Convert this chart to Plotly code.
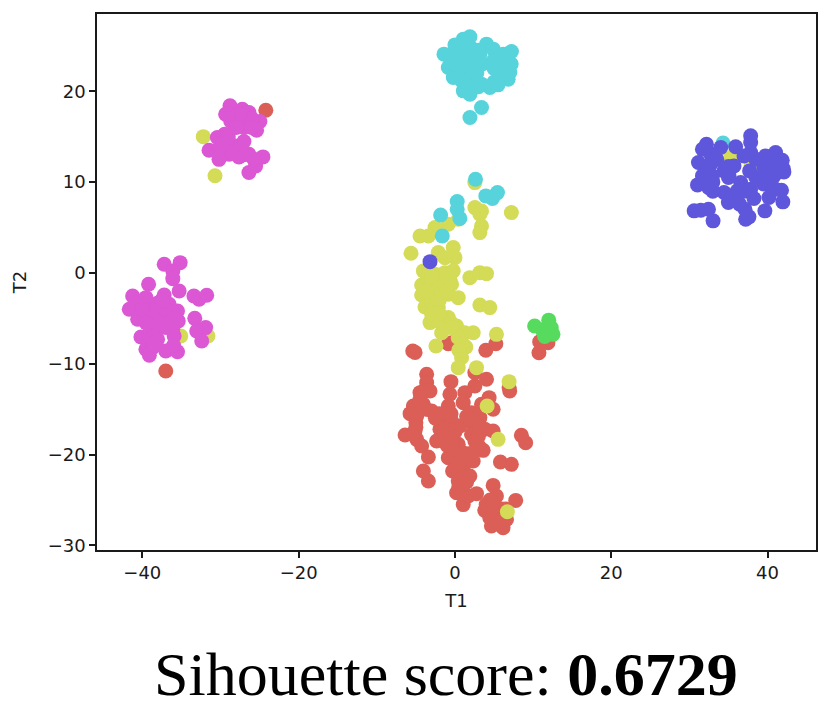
import plotly.graph_objects as go

red_x = [-24.2, -37.0, -5.4, -5.1, -0.85, -0.4, 3.95, 5.23, 10.75, 10.84, 11.9, -3.62, -3.62, -4.47, -3.19, -5.32, -4.04, -2.98,
         -5.74, -4.89, -0.51, -0.64, -0.85, 2.55, 1.27, 1.06, 2.55, 4.04, 7.01, 4.37, 3.4, 4.89, 2.12, 3.19, -1.49, -0.43, 0.63,
         -1.92, -0.85, -6.38, -5.11, -4.89, -4.26, -2.34, -3.4, 2.34, 2.12, 4.89, 3.82, 2.55, 3.61, 2.34, 8.5, 9.05, 5.82, 7.22,
         -0.85, 0.42, 0.42, 2.34, -0.3, 1.06, 1.91, -4.04, -3.4, 0.42, 0.21, 2.76, 1.06, 1.7, 4.89, 5.31, 7.78, 3.82, 5.1, 4.67,
         6.16, 4.46, 6.6, 5.52, 6.93,
         -2.5, -1.0, 0.0, -0.5, -1.0, 0.0, 1.0, 0.5, 0.5, 1.5, 3.0, 3.0, 3.0, -4.5, -3.7, -4.0, -5.0, -5.0, -2.0, -1.5, -0.5, 1.5,
         2.5, 3.2, 1.7, 1.0, 5.0, 5.0, 6.0, 5.5, 4.0, 6.5, 4.5]
red_y = [17.9, -10.8, -8.59, -8.75, -7.79, -7.7, -8.52, -7.79, -8.78, -7.57, -7.68, -11.16, -12.08, -13.18, -13.0, -14.65, -14.46,
         -15.2, -15.49, -15.75, -11.97, -13.36, -14.65, -12.45, -13.18, -14.28, -10.98, -11.71, -12.99, -13.73, -14.46, -15.0,
         -15.38, -15.93, -16.3, -16.3, -16.85, -17.2, -17.4, -17.84, -17.4, -18.32, -19.05, -18.5, -20.26, -16.67, -17.77, -17.4,
         -17.2, -18.5, -19.53, -19.79, -17.88, -18.69, -20.82, -21.07, -20.34, -18.87, -20.15, -20.7, -21.8, -21.6, -22.36, -21.8,
         -22.9, -22.9, -24.2, -24.3, -25.5, -24.56, -23.39, -24.56, -25.04, -26.14, -25.85, -27.86, -28.05, -26.95, -27.13, -26.95,
         -12.6,
         -16.0, -15.5, -17.5, -18.5, -19.0, -19.5, -20.5, -21.0, -23.5, -23.0, -16.7, -18.0, -19.0, -14.0, -15.0, -13.0, -16.5,
         -17.0, -15.5, -17.5, -15.5, -15.8, -16.2, -17.0, -19.9, -19.8, -25.5, -26.5, -26.0, -27.5, -25.5, -26.0, -25.0]

yellow_x = [2.55, 7.22, 2.55, 3.4, 3.19, 3.4, 3.19, 0.42, -0.85, -2.55, -4.47, -3.4, -5.62, -2.13, -0.22, 0.0, -1.28, -4.04, -2.55,
            -1.28, -0.22, -4.26, -3.19, -4.26, -3.19, -2.55, -0.43, -0.85, 0.42, -1.92, -3.83, -2.13, -3.19, -2.13, -0.85, 0.21,
            -1.7, 2.34, 1.27, 0.42, 5.31, -2.43, 1.4, 0.85, 1.91, 3.19, 4.04, 3.19, 4.46, -0.64, -2.98, 0.42, 2.76, 6.93, 4.12,
            5.52, 6.71, -32.2, -30.7, -35.08, -31.6, 35.3, 37.9,
            -3.5, -3.5, -2.0, -1.5, -1.0, -2.0, -3.0, -3.0, -0.5, 1.0, 0.5, -0.5]
yellow_y = [9.94, 6.64, 7.19, 6.82, 6.46, 5.17, 4.44, 5.91, 5.36, 4.99, 4.07, 4.07, 2.16, 2.24, 2.79, 1.68, 1.68, 0.22, -0.15, 0.03,
            0.22, -1.33, -1.44, -2.43, -2.54, -1.62, -1.25, -2.35, -2.72, -2.54, -3.75, -3.82, -5.47, -5.29, -4.92, -5.84, -6.58,
            -6.58, -6.58, -7.13, -6.76, -8.04, -8.15, -9.33, -0.52, 0.03, -0.08, -3.53, -3.82, -0.7, -3.09, -10.43, -10.43, -11.97,
            -14.65, -18.32, -26.29, 15.0, 10.7, -6.94, -6.94, 12.7, 11.8,
            -0.5, -2.0, -3.0, -1.0, -2.0, -4.5, -4.5, -0.5, -5.5, -7.8, -8.5, -6.0]

green_x = [10.2, 12.0, 11.26, 12.54, 11.48, 12.33, 11.9]
green_y = [-5.84, -5.2, -6.39, -6.76, -7.0, -6.03, -5.84]

cyan_x = [1.92, 1.07, 0.0, -1.4, -0.21, 1.07, 4.04, 4.9, 7.23, 6.17, -0.85, 0.43, 1.92, 3.19, 4.9, 6.81, -0.21, 1.28, 2.56, 5.74,
          7.02, 4.47, 1.92, 3.4, 5.74, 6.81, 1.07, 1.92, 3.4, 1.92, 2.63, 0.29, 0.29, 0.63, -1.83, -1.62, 3.95, 4.8, 5.44, 34.3,
          0.5, 1.5, 2.5, 3.5, 5.0, 6.0, 6.5, 5.0, 1.0, 0.0, 2.2, 3.0, -0.5, 6.0, 7.2, 5.5, 2.0, 3.0, 1.0, 0.5, 2.8, 6.5, 5.5]
cyan_y = [25.99, 25.73, 25.1, 24.08, 24.08, 24.26, 25.18, 24.63, 24.37, 24.08, 22.61, 22.98, 22.98, 24.08, 23.34, 22.98, 21.51, 21.69,
          22.24, 22.24, 22.06, 20.41, 20.96, 20.78, 21.33, 21.33, 20.04, 19.67, 18.2, 17.1, 10.31, 7.85, 7.0, 6.0, 6.38, 4.07, 8.48,
          8.2, 8.84, 14.3,
          24.0, 23.8, 23.2, 23.0, 22.5, 23.3, 22.2, 21.0, 22.0, 23.0, 21.5, 20.5, 23.3, 21.8, 23.0, 20.7, 24.8, 24.5, 21.0, 21.5,
          22.0, 24.0, 23.5]

blue_x = [37.84, 37.84, 32.18, 31.67, 34.01, 35.92, 32.73, 37.84, 36.99, 41.03, 39.75, 41.88, 31.16, 32.73, 40.6, 34.44, 35.71, 37.71,
          39.54, 42.09, 31.67, 32.95, 35.07, 39.11, 40.81, 31.04, 32.44, 36.56, 39.96, 41.03, 41.79, 34.44, 36.14, 37.84, 38.26,
          40.18, 41.96, 34.99, 36.43, 39.66, 30.61, 31.46, 32.44, 33.03, 37.2, 37.62, 37.11, -3.19,
          33.0, 33.5, 33.0, 32.0, 33.0, 40.0, 41.0, 41.0, 40.0, 39.5, 38.5, 40.0, 36.0, 37.0, 35.5, 42.0, 38.5, 35.0, 35.0]
blue_y = [15.09, 14.35, 14.17, 13.62, 13.8, 13.88, 13.07, 13.25, 12.88, 13.25, 12.88, 12.4, 12.15, 11.97, 11.97, 11.23, 11.78, 11.23,
          11.6, 11.12, 10.68, 10.68, 10.68, 10.31, 10.68, 9.69, 9.4, 9.95, 9.76, 9.21, 9.1, 8.85, 9.03, 9.21, 8.19, 8.3, 7.82, 7.75,
          7.56, 6.83, 6.83, 6.9, 7.01, 5.73, 5.91, 6.17, 7.0, 1.24,
          13.0, 12.5, 10.0, 11.5, 9.0, 12.0, 12.0, 11.0, 11.0, 9.8, 10.5, 10.5, 8.5, 9.0, 8.5, 11.5, 12.5, 10.5, 11.7]

magenta_x = [-28.78, -27.21, -26.36, -29.34, -28.27, -27.21, -28.7, -24.96, -25.9, -25.38, -27.0, -27.85, -29.46, -30.4, -27.0, -29.34,
             -28.27, -31.46, -30.19, -30.19, -28.9, -27.64, -26.36, -24.57, -25.5, -26.36, -25.72, -27.64,
             -37.2, -35.16, -36.1, -36.1, -39.2, -35.29, -33.4, -32.74, -31.76, -41.24, -39.54, -37.2, -41.67, -40.4, -38.9, -37.84,
             -36.56, -35.5, -40.6, -39.33, -38.05, -36.78, -35.4, -33.29, -38.9, -37.6, -36.1, -31.9, -33.04, -40.18, -39.1, -38.05,
             -35.93, -32.4, -39.54, -38.7, -39.1, -37.0, -35.5,
             -29.5, -29.0, -28.5, -27.0, -26.0, -27.5, -28.0, -26.0, -29.0, -30.0,
             -39.0, -38.0, -37.0, -38.5, -38.2, -37.0, -38.0, -36.0, -40.0, -39.5, -37.5, -38.5, -36.0]
magenta_y = [18.39, 18.02, 17.65, 17.47, 17.29, 16.92, 16.74, 16.66, 16.74, 15.71, 16.0, 16.2, 15.27, 14.9, 14.46, 14.35, 14.0, 13.5,
             12.5, 13.62, 13.07, 12.77, 13.07, 12.77, 11.78, 11.05, 12.5, 13.62,
             0.95, 1.13, 0.2, -0.63, -1.25, -1.99, -2.54, -2.9, -2.46, -2.54, -2.72, -2.43, -4.0, -3.45, -3.82, -3.45, -3.45, -4.19,
             -5.1, -4.92, -4.55, -4.92, -5.29, -5.0, -6.02, -5.84, -6.2, -6.02, -6.39, -7.05, -6.94, -7.31, -6.94, -7.5, -8.41, -8.23,
             -9.07, -8.6, -8.67,
             14.5, 15.0, 13.2, 13.0, 17.0, 17.5, 16.0, 16.0, 17.5, 13.9,
             -4.5, -5.5, -6.0, -7.0, -7.5, -4.0, -3.3, -5.0, -4.0, -5.5, -3.0, -8.0, -8.0]

x_ticks = [-40, -20, 0, 20, 40]
y_ticks = [-30, -20, -10, 0, 10, 20]

# hls palette, drawn in cluster order so the overlaps come out the same
clusters = [
    (red_x, red_y, "#DB5F57"),
    (yellow_x, yellow_y, "#D3DB57"),
    (green_x, green_y, "#57DB5F"),
    (cyan_x, cyan_y, "#57D3DB"),
    (blue_x, blue_y, "#5F57DB"),
    (magenta_x, magenta_y, "#DB57D3"),
]

fig = go.Figure()
for xs, ys, color in clusters:
    fig.add_trace(go.Scatter(x=xs, y=ys, mode="markers", marker=dict(color=color, size=15, line=dict(width=0))))

axis_style = dict(showgrid=False, zeroline=False, showline=True, mirror=True, linecolor="#1a1a1a", linewidth=1.5,
                  ticks="outside", ticklen=6, tickwidth=1.5, tickcolor="#1a1a1a",
                  tickfont=dict(family="DejaVu Sans", size=18, color="#1a1a1a"))
title_font = dict(family="DejaVu Sans", size=18, color="#1a1a1a")

fig.update_xaxes(range=[-45.8, 46.2], tickvals=x_ticks, title=dict(text="T1", font=title_font, standoff=12), **axis_style)
fig.update_yaxes(range=[-30.5, 28.5], tickvals=y_ticks, title=dict(text="T2", font=title_font, standoff=16), **axis_style)

fig.add_annotation(text="Sihouette score: <b>0.6729</b>", xref="paper", yref="paper", x=0.485, y=-0.298, showarrow=False,
                   font=dict(family="Liberation Serif", size=62, color="black"))

# the page adds its own margin of a few pixels, so the plot area starts 7px earlier here
fig.update_layout(width=831, height=703, showlegend=False, plot_bgcolor="white", paper_bgcolor="white",
                  margin=dict(l=89, r=23, t=6, b=161, autoexpand=False))

fig.write_html("out.html")
